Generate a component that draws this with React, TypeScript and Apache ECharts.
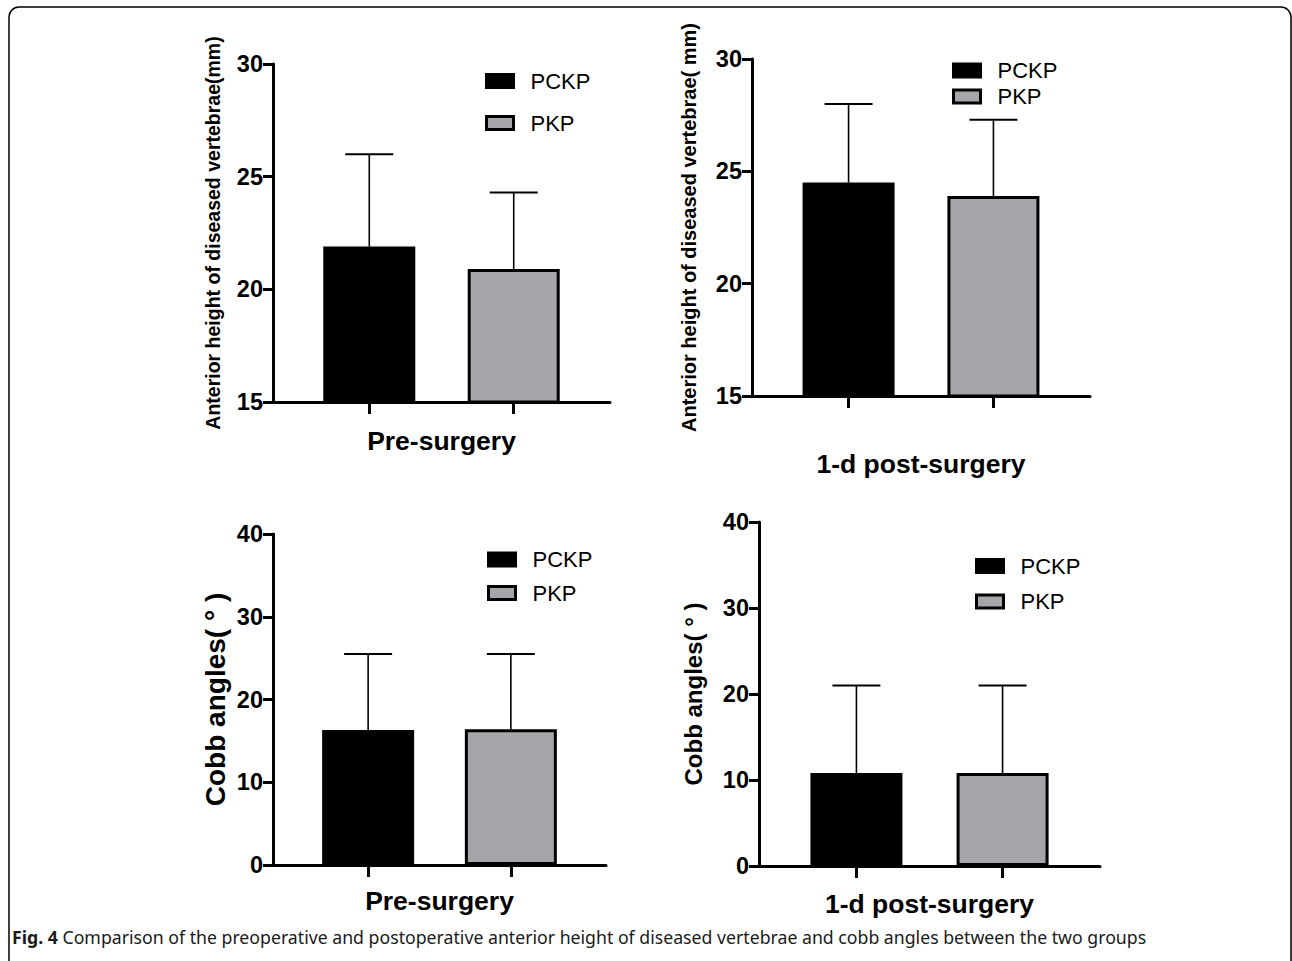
import React, { useEffect, useRef } from 'react';
import * as echarts from 'echarts';

// ---- data ----
const groups = ['PCKP', 'PKP'];
const groupPositions = [2, 5];
const xNames = ['Pre-surgery', '1-d post-surgery', 'Pre-surgery', '1-d post-surgery'];
const yNames = [
  'Anterior height of diseased vertebrae(mm)',
  'Anterior height of diseased vertebrae( mm)',
  'Cobb angles( ° )',
  'Cobb angles( ° )',
];
const heightPreMean = [21.9, 20.9];
const heightPreSD = [4.1, 3.4];
const heightPostMean = [24.5, 23.9];
const heightPostSD = [3.5, 3.4];
const cobbPreMean = [16.3, 16.4];
const cobbPreSD = [9.2, 9.1];
const cobbPostMean = [10.8, 10.8];
const cobbPostSD = [10.2, 10.2];
const heightAxis = { min: 15, max: 30, interval: 5 };
const cobbAxis = { min: 0, max: 40, interval: 10 };
const caption =
  '{b|Fig. 4} Comparison of the preoperative and postoperative anterior height of diseased vertebrae and cobb angles between the two groups';

const means = [heightPreMean, heightPostMean, cobbPreMean, cobbPostMean];
const sds = [heightPreSD, heightPostSD, cobbPreSD, cobbPostSD];
const yScales = [heightAxis, heightAxis, cobbAxis, cobbAxis];

// ---- layout (styles only) ----
const FONT = 'Arial';
const panels = [
  { left: 273, top: 64, width: 337, height: 338, yGap: 50, yFont: 19.5, xGap: 25, legLeft: 485, legTop: 70, legGap: 20 },
  { left: 752, top: 59, width: 338, height: 337, yGap: 53, yFont: 20, xGap: 54, legLeft: 952, legTop: 59.5, legGap: 4 },
  { left: 273, top: 534, width: 333, height: 331, yGap: 44, yFont: 28, xGap: 22, legLeft: 487, legTop: 548.5, legGap: 11.5 },
  { left: 759, top: 522, width: 341, height: 344, yGap: 54, yFont: 24, xGap: 24, legLeft: 975, legTop: 555, legGap: 13.5 },
];
const barColors = ['#000000', '#a5a5aa'];

export default function App() {
  const ref = useRef<HTMLDivElement>(null);
  useEffect(() => {
    if (!ref.current) return;
    const chart = echarts.init(ref.current, null, { renderer: 'svg' });
    const grid: any[] = [];
    const xAxis: any[] = [];
    const yAxis: any[] = [];
    const legend: any[] = [];
    const series: any[] = [];
    panels.forEach((p, i) => {
      grid.push({ left: p.left, top: p.top, width: p.width, height: p.height, containLabel: false });
      xAxis.push({
        type: 'value',
        gridIndex: i,
        min: 0,
        max: 7,
        name: xNames[i],
        nameLocation: 'middle',
        nameGap: p.xGap,
        nameTextStyle: { fontFamily: FONT, fontWeight: 'bold', fontSize: 26.5, color: '#000' },
        axisLine: { show: true, onZero: false, lineStyle: { color: '#000', width: 3 } },
        axisTick: { show: true, length: 12, customValues: groupPositions, lineStyle: { color: '#000', width: 3 } },
        axisLabel: { show: false },
        splitLine: { show: false },
      });
      const ys = yScales[i];
      yAxis.push({
        type: 'value',
        gridIndex: i,
        min: ys.min,
        max: ys.max,
        interval: ys.interval,
        name: yNames[i],
        nameLocation: 'middle',
        nameRotate: 90,
        nameGap: p.yGap,
        nameTextStyle: { fontFamily: FONT, fontWeight: 'bold', fontSize: p.yFont, color: '#000' },
        axisLine: { show: true, onZero: false, lineStyle: { color: '#000', width: 3 } },
        axisTick: { show: true, length: 10, lineStyle: { color: '#000', width: 3 } },
        axisLabel: { margin: 10, fontFamily: FONT, fontWeight: 'bold', fontSize: 23.5, color: '#000' },
        splitLine: { show: false },
      });
      legend.push({
        data: groups,
        orient: 'vertical',
        left: p.legLeft,
        top: p.legTop,
        padding: 0,
        itemGap: p.legGap,
        itemWidth: 27,
        itemHeight: 13,
        icon: 'rect',
        selectedMode: false,
        itemStyle: { borderColor: '#000', borderWidth: 3 },
        textStyle: { fontFamily: FONT, fontSize: 22, color: '#000', lineHeight: 22, padding: [0, 0, 0, 12] },
      });
      groups.forEach((g, k) => {
        series.push({
          type: 'bar',
          name: g,
          xAxisIndex: i,
          yAxisIndex: i,
          barWidth: 92,
          barGap: '-100%',
          itemStyle: { color: barColors[k], borderColor: '#000', borderWidth: 3 },
          data: [[groupPositions[k], means[i][k]]],
        });
      });
      series.push({
        type: 'custom',
        name: 'sd' + i,
        xAxisIndex: i,
        yAxisIndex: i,
        clip: false,
        z: 3,
        encode: { x: 0, y: 1 },
        data: groupPositions.map((pos, k) => [pos, means[i][k], sds[i][k]]),
        renderItem: (_params: any, api: any) => {
          const x = api.value(0);
          const m = api.value(1);
          const s = api.value(2);
          const base = api.coord([x, m]);
          const top = api.coord([x, m + s]);
          return {
            type: 'group',
            children: [
              { type: 'line', shape: { x1: base[0], y1: base[1], x2: top[0], y2: top[1] }, style: { stroke: '#000', lineWidth: 1.6 } },
              { type: 'line', shape: { x1: top[0] - 24, y1: top[1], x2: top[0] + 24, y2: top[1] }, style: { stroke: '#000', lineWidth: 2 } },
            ],
          };
        },
      });
    });

    chart.setOption({
      animation: false,
      backgroundColor: '#ffffff',
      grid,
      xAxis,
      yAxis,
      legend,
      series,
      graphic: [
        {
          type: 'rect',
          shape: { x: 9, y: 7, width: 1282, height: 1000, r: 10 },
          style: { fill: 'none', stroke: '#000', lineWidth: 1.5 },
          silent: true,
        },
        {
          type: 'text',
          x: 12,
          y: 937,
          style: {
            text: caption,
            fontFamily: 'Noto Sans',
            fontSize: 17.7,
            fill: '#1a1a1a',
            verticalAlign: 'middle',
            rich: { b: { fontFamily: 'Noto Sans', fontSize: 17.7, fontWeight: 'bold', fill: '#1a1a1a' } },
          },
        },
      ],
    });
    return () => chart.dispose();
  }, []);
  return <div ref={ref} style={{ position: 'absolute', left: 0, top: 0, width: 1292, height: 961 }} />;
}
